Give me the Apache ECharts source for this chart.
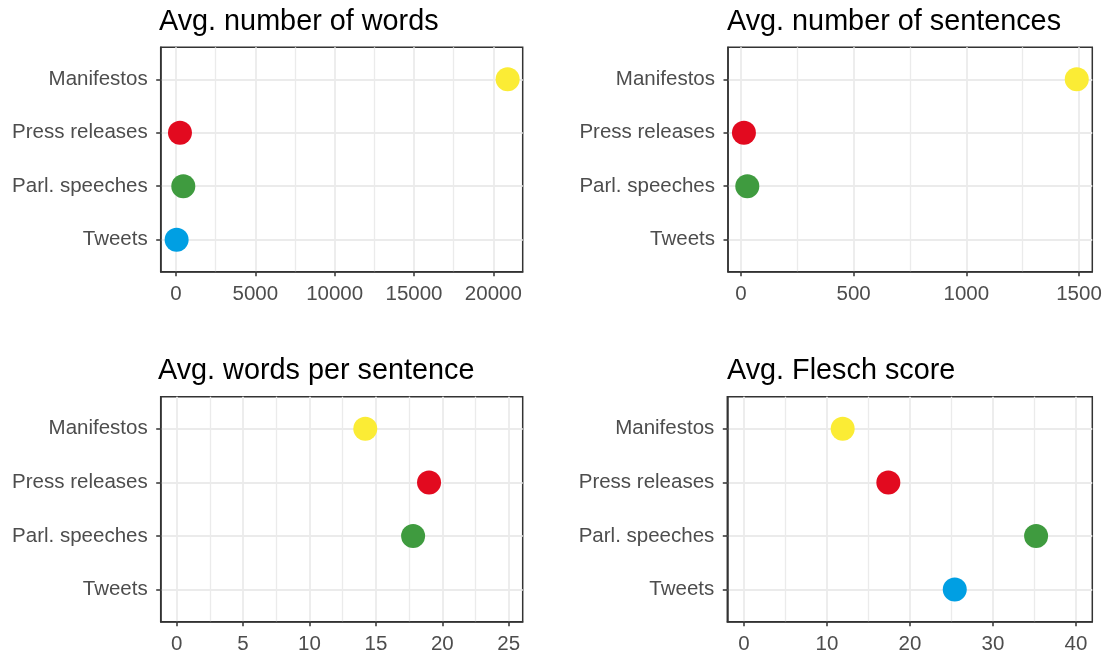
<!DOCTYPE html>
<html>
<head>
<meta charset="utf-8">
<title>Text statistics by document type</title>
<script src="https://cdn.jsdelivr.net/npm/echarts@6/dist/echarts.min.js"></script>
<style>
  html, body { margin: 0; padding: 0; background: #ffffff; }
  #chart { width: 1106px; height: 655px; }
</style>
</head>
<body>
<div id="chart"></div>
<script>
// Document types, bottom to top on each panel
const categories = ['Tweets', 'Parl. speeches', 'Press releases', 'Manifestos'];
const categoryColors = ['#009FE3', '#3F9B3F', '#E20A1F', '#FBEC35'];

// Averages per document type (null = not available)
const avgWords = [40, 460, 250, 20900];
const avgSentences = [null, 28, 13, 1490];
const avgWordsPerSentence = [null, 17.8, 19.0, 14.2];
const avgFlesch = [25.4, 35.2, 17.4, 11.9];

// Axis breaks
const wordsTicks = [0, 5000, 10000, 15000, 20000];
const wordsMinor = [2500, 7500, 12500, 17500];
const sentencesTicks = [0, 500, 1000, 1500];
const sentencesMinor = [250, 750, 1250];
const wpsTicks = [0, 5, 10, 15, 20, 25];
const wpsMinor = [2.5, 7.5, 12.5, 17.5, 22.5];
const fleschTicks = [0, 10, 20, 30, 40];
const fleschMinor = [5, 15, 25, 35];

const panels = [
  { title: 'Avg. number of words', values: avgWords, ticks: wordsTicks, minor: wordsMinor,
    min: -964, max: 21850, grid: { left: 160.7, top: 47.3, width: 362, height: 224.4 }, titlePos: { left: 159, top: 7.5 } },
  { title: 'Avg. number of sentences', values: avgSentences, ticks: sentencesTicks, minor: sentencesMinor,
    min: -57.7, max: 1559, grid: { left: 728, top: 47.3, width: 364.3, height: 224.4 }, titlePos: { left: 727, top: 7.5 } },
  { title: 'Avg. words per sentence', values: avgWordsPerSentence, ticks: wpsTicks, minor: wpsMinor,
    min: -1.2, max: 26.05, grid: { left: 160.7, top: 396.7, width: 362, height: 225 }, titlePos: { left: 158, top: 357 } },
  { title: 'Avg. Flesch score', values: avgFlesch, ticks: fleschTicks, minor: fleschMinor,
    min: -2.0, max: 41.97, grid: { left: 727.3, top: 396.7, width: 365, height: 225 }, titlePos: { left: 727, top: 357 } }
];

const FONT = '"Liberation Sans", Arial, sans-serif';
const GRID_COLOR = '#EBEBEB';
const BORDER_COLOR = '#333333';
const catIndex = categories.map((c, i) => i);

const option = {
  animation: false,
  backgroundColor: '#ffffff',
  title: [],
  grid: [],
  xAxis: [],
  yAxis: [],
  series: []
};

panels.forEach((p, k) => {
  option.title.push({
    text: p.title,
    left: p.titlePos.left,
    top: p.titlePos.top,
    padding: 0,
    textStyle: { fontFamily: FONT, fontSize: 28.8, fontWeight: 'normal', color: '#000000' }
  });

  option.grid.push({
    left: p.grid.left, top: p.grid.top, width: p.grid.width, height: p.grid.height,
    containLabel: false, outerBoundsMode: 'none',
    show: true, borderColor: BORDER_COLOR, borderWidth: 1.5, backgroundColor: '#ffffff'
  });

  // Main value axis with labels, ticks and major grid lines
  option.xAxis.push({
    type: 'value', gridIndex: k, min: p.min, max: p.max, position: 'bottom',
    axisLine: { show: true, onZero: false, lineStyle: { color: BORDER_COLOR, width: 1.5 } },
    axisTick: { show: true, customValues: p.ticks, length: 4.5, lineStyle: { color: BORDER_COLOR, width: 1.5 } },
    axisLabel: { show: true, customValues: p.ticks, margin: 12, fontFamily: FONT, fontSize: 20.5, color: '#4D4D4D',
                 showMinLabel: true, showMaxLabel: true, formatter: v => String(v) },
    splitLine: { show: true, lineStyle: { color: GRID_COLOR, width: 1.8 } }
  });
  // Companion axis carrying only the minor grid lines
  option.xAxis.push({
    type: 'value', gridIndex: k, min: p.min, max: p.max, position: 'top',
    axisLine: { show: false, onZero: false },
    axisTick: { show: false, customValues: p.minor },
    axisLabel: { show: false, customValues: p.minor },
    splitLine: { show: true, lineStyle: { color: GRID_COLOR, width: 1.3 } }
  });

  option.yAxis.push({
    type: 'value', gridIndex: k, min: -0.6, max: 3.6,
    axisLine: { show: true, onZero: false, lineStyle: { color: BORDER_COLOR, width: 1.5 } },
    axisTick: { show: true, customValues: catIndex, length: 4.5, lineStyle: { color: BORDER_COLOR, width: 1.5 } },
    axisLabel: { show: true, customValues: catIndex, margin: 13, fontFamily: FONT, fontSize: 20.5, color: '#4D4D4D',
                 formatter: v => categories[Math.round(v)] },
    splitLine: { show: true, lineStyle: { color: GRID_COLOR, width: 1.8 } }
  });

  const data = [];
  p.values.forEach((v, i) => {
    if (v === null || v === undefined) return;
    data.push({ value: [v, i], itemStyle: { color: categoryColors[i], opacity: 1 } });
  });

  option.series.push({
    type: 'scatter',
    xAxisIndex: 2 * k,
    yAxisIndex: k,
    symbol: 'circle',
    symbolSize: 24,
    itemStyle: { opacity: 1 },
    data: data,
    z: 5
  });
});

const chart = echarts.init(document.getElementById('chart'), null, { renderer: 'canvas' });
chart.setOption(option);
</script>
</body>
</html>
